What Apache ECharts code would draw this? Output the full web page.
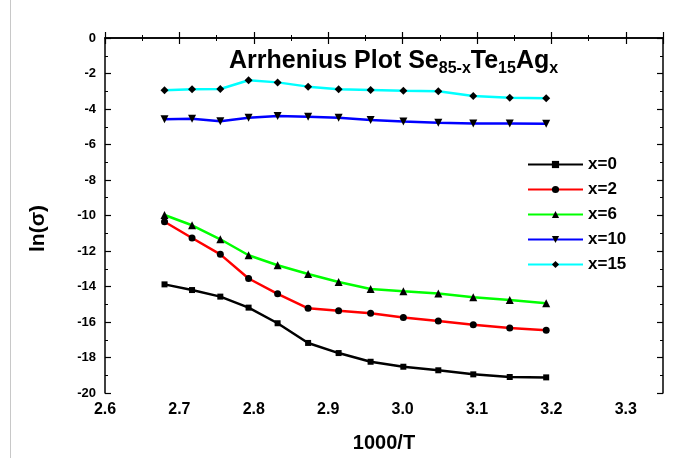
<!DOCTYPE html>
<html>
<head>
<meta charset="utf-8">
<script src="https://cdn.jsdelivr.net/npm/echarts@6/dist/echarts.min.js"></script>
<style>html,body{margin:0;padding:0;background:#fff;}#c{width:676px;height:458px;}</style>
</head>
<body>
<div id="c"></div>
<script>
const xValues = [2.680, 2.717, 2.755, 2.793, 2.832, 2.873, 2.914, 2.957, 3.001, 3.048, 3.095, 3.144, 3.193];
const x0  = [-13.88, -14.20, -14.57, -15.19, -16.07, -17.18, -17.75, -18.24, -18.52, -18.72, -18.95, -19.10, -19.12];
const x2  = [-10.35, -11.27, -12.19, -13.55, -14.41, -15.23, -15.36, -15.51, -15.74, -15.94, -16.15, -16.34, -16.47];
const x6  = [-9.97, -10.55, -11.34, -12.24, -12.80, -13.30, -13.75, -14.14, -14.27, -14.40, -14.61, -14.76, -14.94];
const x10 = [-4.58, -4.55, -4.69, -4.49, -4.39, -4.43, -4.49, -4.62, -4.71, -4.77, -4.81, -4.81, -4.83];
const x15 = [-2.95, -2.89, -2.87, -2.38, -2.50, -2.74, -2.89, -2.93, -2.97, -3.00, -3.27, -3.36, -3.40];
const seriesNames = ['x=0', 'x=2', 'x=6', 'x=10', 'x=15'];
const xTickLabels = ['2.6','2.7','2.8','2.9','3.0','3.1','3.2','3.3'];

const FONT = 'Liberation Sans, Arial, sans-serif';
const pair = arr => xValues.map((x, i) => [x, arr[i]]);

const defs = [
  {name: seriesNames[0], data: x0,  color: '#000000', symbol: 'rect',     size: 6, rotate: 0},
  {name: seriesNames[1], data: x2,  color: '#ff0000', symbol: 'circle',   size: 7, rotate: 0},
  {name: seriesNames[2], data: x6,  color: '#00ff00', symbol: 'triangle', size: 8, rotate: 0},
  {name: seriesNames[3], data: x10, color: '#0000ff', symbol: 'triangle', size: 8, rotate: 180},
  {name: seriesNames[4], data: x15, color: '#00ffff', symbol: 'diamond',  size: 8, rotate: 0}
];

const axisCommon = {
  type: 'value',
  axisLine: {show: true, lineStyle: {color: '#000', width: 1.5}},
  axisTick: {show: true, inside: true, length: 6, lineStyle: {color: '#000', width: 1.2}},
  minorTick: {show: true, splitNumber: 2, length: 3, lineStyle: {color: '#000', width: 1}},
  splitLine: {show: false},
  minorSplitLine: {show: false}
};

const chart = echarts.init(document.getElementById('c'));
chart.setOption({
  backgroundColor: '#fff',
  animation: false,
  title: {
    left: 229, top: 46, padding: 0,
    text: '{a|Arrhenius Plot Se}{s|85-x}{a|Te}{s|15}{a|Ag}{s|x}',
    textStyle: {
      rich: {
        a: {fontFamily: FONT, fontWeight: 'bold', fontSize: 25, color: '#000', lineHeight: 30},
        s: {fontFamily: FONT, fontWeight: 'bold', fontSize: 16, color: '#000', lineHeight: 30, padding: [15, 0, 0, 0]}
      }
    }
  },
  legend: {
    left: 527, top: 156, orient: 'vertical', padding: 0,
    itemWidth: 55, itemHeight: 9, itemGap: 8,
    data: seriesNames,
    textStyle: {fontFamily: FONT, fontWeight: 'bold', fontSize: 17, color: '#000'}
  },
  grid: {left: 105, right: 13, top: 38, bottom: 65, containLabel: false},
  xAxis: [
    Object.assign({}, axisCommon, {
      min: 2.6, max: 3.35, interval: 0.1, position: 'bottom',
      name: '1000/T', nameLocation: 'middle', nameGap: 40,
      nameTextStyle: {fontFamily: FONT, fontWeight: 'bold', fontSize: 20, color: '#000'},
      axisLabel: {
        margin: 9, fontFamily: FONT, fontWeight: 'bold', fontSize: 16, color: '#000',
        showMaxLabel: false,
        formatter: v => { const i = Math.round((v - 2.6) / 0.1); return Math.abs(v - (2.6 + i * 0.1)) < 1e-6 ? (xTickLabels[i] || '') : ''; }
      }
    }),
    Object.assign({}, axisCommon, {
      min: 2.6, max: 3.35, interval: 0.1, position: 'top',
      axisLabel: {show: false}
    })
  ],
  yAxis: [
    Object.assign({}, axisCommon, {
      min: -20, max: 0, interval: 2, position: 'left',
      name: 'ln(σ)', nameLocation: 'middle', nameGap: 56,
      nameTextStyle: {fontFamily: FONT, fontWeight: 'bold', fontSize: 21, color: '#000', padding: [0, 0, 0, -26]},
      axisLabel: {margin: 9, fontFamily: FONT, fontWeight: 'bold', fontSize: 13, color: '#000'}
    }),
    Object.assign({}, axisCommon, {
      min: -20, max: 0, interval: 2, position: 'right',
      axisLabel: {show: false}
    })
  ],
  graphic: [
    {type: 'line', shape: {x1: 10.5, y1: 0, x2: 10.5, y2: 458}, style: {stroke: '#c8c8c8', lineWidth: 1}, silent: true}
  ],
  series: defs.map(d => ({
    name: d.name,
    type: 'line',
    xAxisIndex: 0, yAxisIndex: 0,
    data: pair(d.data),
    symbol: d.symbol,
    symbolSize: d.size,
    symbolRotate: d.rotate,
    showSymbol: true,
    lineStyle: {color: d.color, width: 2.5},
    itemStyle: {color: '#000', borderWidth: 0},
    emphasis: {disabled: true}
  }))
});
</script>
</body>
</html>
